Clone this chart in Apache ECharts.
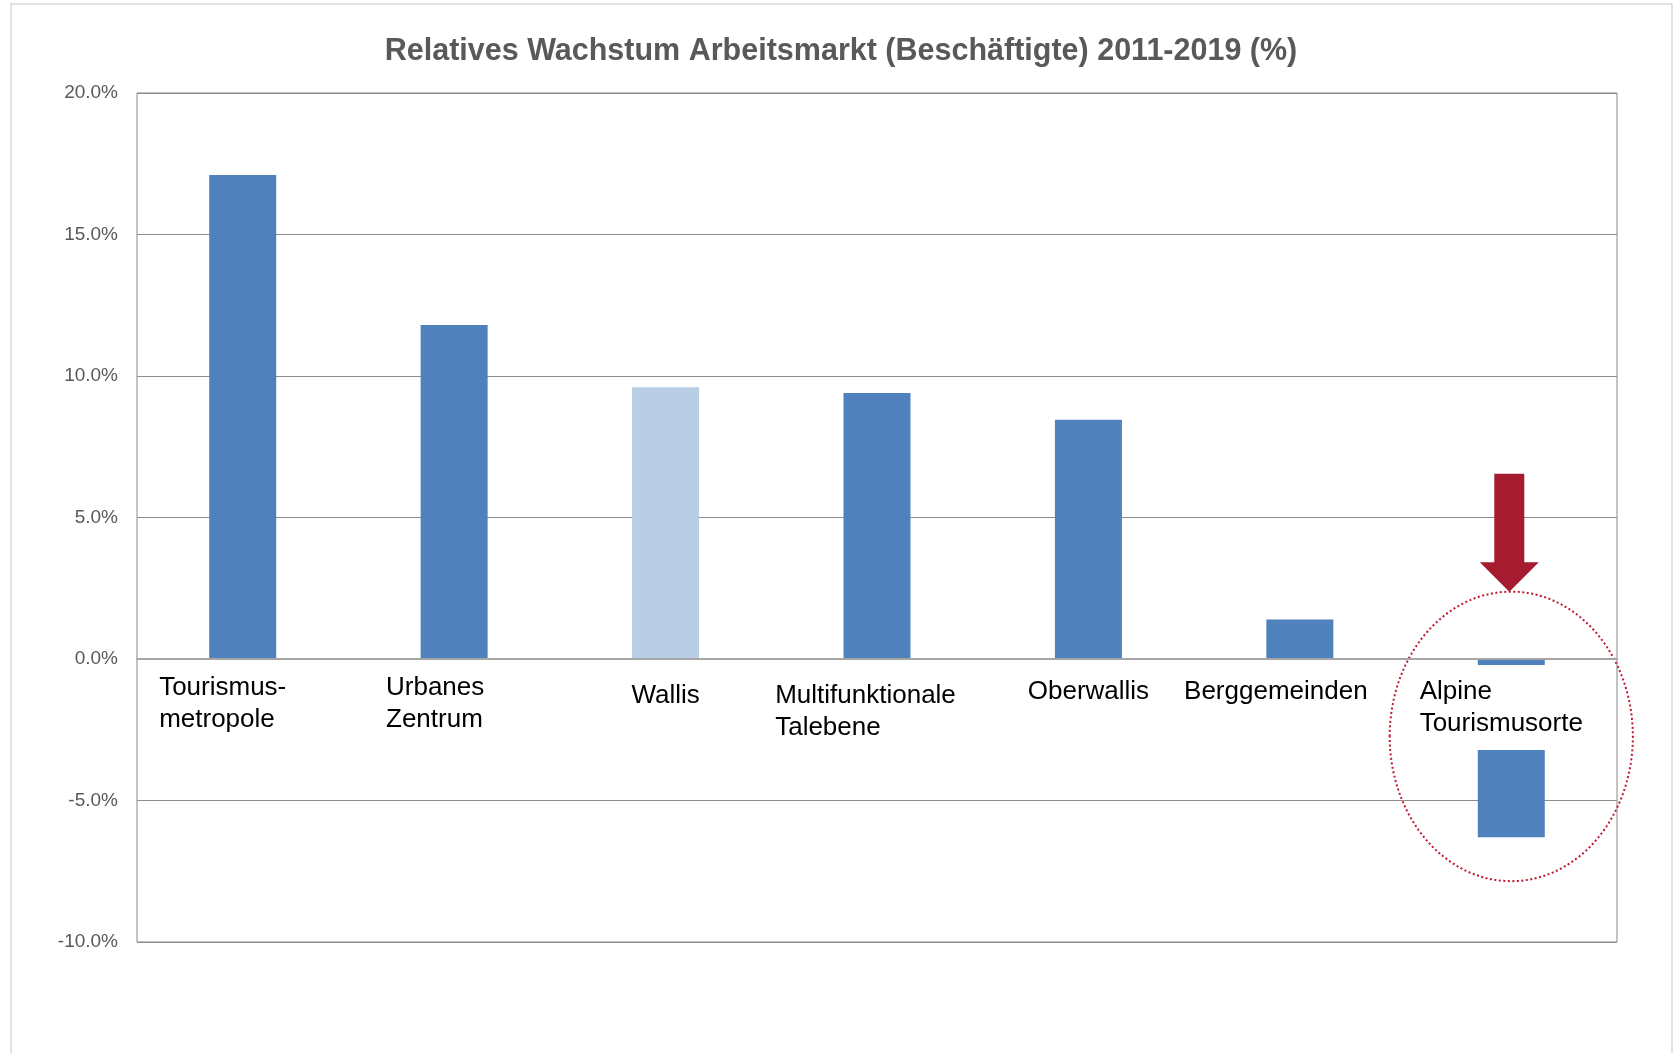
<!DOCTYPE html>
<html>
<head>
<meta charset="utf-8">
<script src="https://cdn.jsdelivr.net/npm/echarts@6/dist/echarts.min.js"></script>
<style>
  html, body { margin: 0; padding: 0; background: #fff; }
  #chart { width: 1673px; height: 1053px; }
</style>
</head>
<body>
<div id="chart"></div>
<script>
// data
const categories = ['Tourismus-\nmetropole', 'Urbanes\nZentrum', 'Wallis', 'Multifunktionale\nTalebene', 'Oberwallis', 'Berggemeinden', 'Alpine\nTourismusorte'];
const growth = [17.1, 11.8, 9.6, 9.4, 8.45, 1.4, -6.3];
const yMin = -10;
const yMax = 20;
const yStep = 5;

const font = "'Liberation Sans', Arial, sans-serif";
const blue = '#4F81BD';
const lightBlue = '#B9CDE5';
const red = '#A51C30';

// label boxes: [top, right, bottom, left] padding, tuned to the Excel layout
const labelPad = [
  [7, 40, 0, 0],
  [7, 38, 0, 0],
  [15, 0, 0, 0],
  [15, 23, 0, 0],
  [11, 0, 0, 0],
  [11, 48, 0, 0],
  [11, 33, 10, 13]
];

const chart = echarts.init(document.getElementById('chart'));

const option = {
  backgroundColor: '#fff',
  animation: false,
  title: {
    text: 'Relatives Wachstum Arbeitsmarkt (Beschäftigte) 2011-2019 (%)',
    left: 841,
    top: 36,
    padding: 0,
    textAlign: 'center',
    textStyle: {
      fontFamily: font,
      fontSize: 30.5,
      fontWeight: 'bold',
      color: '#595959'
    }
  },
  grid: {
    left: 137,
    right: 56,
    top: 93,
    bottom: 111,
    show: true,
    borderColor: '#888',
    borderWidth: 1
  },
  xAxis: {
    type: 'category',
    z: 5,
    offset: 0,
    data: categories.map((c, i) => {
      const item = { value: c, textStyle: { padding: labelPad[i] } };
      if (i === categories.length - 1) item.textStyle.backgroundColor = '#fff';
      return item;
    }),
    axisLine: { onZero: false, lineStyle: { color: '#a6a6a6', width: 2 } },
    axisTick: { show: false },
    axisLabel: {
      interval: 0,
      margin: 6,
      formatter: v => v.split('\n').map(s => '{t|' + s + '}').join('\n'),
      rich: {
        t: {
          fontFamily: font,
          fontSize: 26,
          lineHeight: 32,
          color: '#000',
          align: 'left'
        }
      }
    }
  },
  yAxis: {
    type: 'value',
    min: yMin,
    max: yMax,
    interval: yStep,
    axisLine: { show: false },
    axisTick: { show: false },
    splitLine: { lineStyle: { color: '#8c8c8c', width: 1 } },
    axisLabel: {
      margin: 19,
      fontFamily: font,
      fontSize: 19,
      color: '#595959',
      formatter: v => v.toFixed(1) + '%'
    }
  },
  series: [{
    type: 'bar',
    barWidth: 67,
    data: growth.map((v, i) => ({
      value: v,
      itemStyle: { color: categories[i] === 'Wallis' ? lightBlue : blue }
    }))
  }]
};

chart.setOption(option);

const last = categories.length - 1;
const px = (i, v) => chart.convertToPixel({ gridIndex: 0 }, [i, v]);

// move the category axis (line and labels) up to the zero line
chart.setOption({ xAxis: { offset: px(0, 0)[1] - px(0, yMin)[1] } });

// annotation round the last category: arrow and dotted ellipse
const band = px(last, 0)[0] - px(last - 1, 0)[0];
const cx = px(last, 0)[0] - 2;
const arrowTop = px(last, 6.55)[1];
const headTop = px(last, 3.42)[1];
const tip = px(last, 2.38)[1];
const ellTop = px(last, 2.38)[1];
const ellBottom = px(last, -7.85)[1];

chart.setOption({
  graphic: [
    {
      type: 'rect',
      silent: true,
      z: 0,
      shape: { x: 11, y: 4, width: 1661, height: 1100 },
      style: { fill: 'none', stroke: '#d9d9d9', lineWidth: 1.5 }
    },
    {
      type: 'ellipse',
      silent: true,
      z: 1,
      shape: { cx: cx + 2, cy: (ellTop + ellBottom) / 2, rx: band * 0.575, ry: (ellBottom - ellTop) / 2 },
      style: { fill: 'none', stroke: '#C0182F', lineWidth: 2, lineDash: [2, 2.5] }
    },
    {
      type: 'polygon',
      silent: true,
      z: 10,
      shape: {
        points: [
          [cx - 15, arrowTop], [cx + 15, arrowTop], [cx + 15, headTop], [cx + 29.5, headTop],
          [cx, tip], [cx - 29.5, headTop], [cx - 15, headTop]
        ]
      },
      style: { fill: red }
    }
  ]
});

window.addEventListener('resize', () => chart.resize());
</script>
</body>
</html>
